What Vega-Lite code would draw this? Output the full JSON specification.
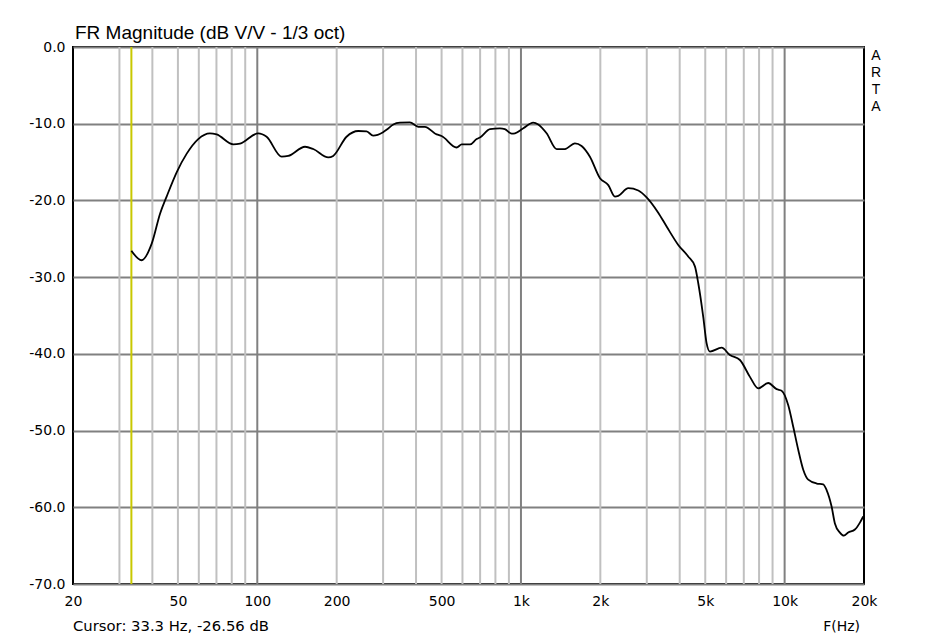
{
  "$schema": "https://vega.github.io/schema/vega-lite/v6.json",
  "width": 791,
  "height": 537,
  "autosize": {"type": "none"},
  "padding": {"left": 73, "top": 47, "right": 73, "bottom": 57},
  "background": "white",
  "title": {
    "text": "FR Magnitude (dB V/V - 1/3 oct)",
    "anchor": "start",
    "frame": "group",
    "font": "Liberation Sans",
    "fontSize": 19,
    "fontWeight": "normal",
    "color": "black",
    "baseline": "alphabetic",
    "offset": -18,
    "dx": 2
  },
  "datasets": {
    "curve": [
      {"f": 33.3, "db": -26.56}, {"f": 36.4, "db": -27.8}, {"f": 39.8, "db": -25.6}, {"f": 42.8, "db": -21.7},
      {"f": 45.3, "db": -19.5}, {"f": 49.5, "db": -16.3}, {"f": 54.0, "db": -13.9}, {"f": 59.7, "db": -12.0},
      {"f": 66.1, "db": -11.25}, {"f": 70.1, "db": -11.4}, {"f": 81.1, "db": -12.7}, {"f": 86, "db": -12.6},
      {"f": 100.8, "db": -11.25}, {"f": 108.5, "db": -11.7}, {"f": 123.7, "db": -14.3}, {"f": 131, "db": -14.2},
      {"f": 151.7, "db": -13.0}, {"f": 163, "db": -13.3}, {"f": 185.9, "db": -14.4}, {"f": 194, "db": -14.2},
      {"f": 218, "db": -11.7}, {"f": 241.6, "db": -10.95}, {"f": 259.8, "db": -11.0}, {"f": 275, "db": -11.55},
      {"f": 300, "db": -11.1}, {"f": 309, "db": -10.8}, {"f": 328, "db": -10.1}, {"f": 347.6, "db": -9.87},
      {"f": 379, "db": -9.82}, {"f": 408, "db": -10.4}, {"f": 432, "db": -10.4}, {"f": 479, "db": -11.4},
      {"f": 500, "db": -11.6}, {"f": 570, "db": -13.1}, {"f": 596, "db": -12.7}, {"f": 641, "db": -12.7},
      {"f": 679, "db": -12.0}, {"f": 699, "db": -11.8}, {"f": 763, "db": -10.7}, {"f": 832, "db": -10.6},
      {"f": 869, "db": -10.7}, {"f": 922, "db": -11.3}, {"f": 949, "db": -11.25}, {"f": 1021, "db": -10.6},
      {"f": 1113, "db": -9.87}, {"f": 1163, "db": -10.1}, {"f": 1251, "db": -11.25}, {"f": 1366, "db": -13.3},
      {"f": 1468, "db": -13.3}, {"f": 1602, "db": -12.55}, {"f": 1698, "db": -12.9}, {"f": 1826, "db": -14.3},
      {"f": 1994, "db": -17.1}, {"f": 2144, "db": -18.0}, {"f": 2272, "db": -19.5}, {"f": 2340, "db": -19.4},
      {"f": 2553, "db": -18.4}, {"f": 2786, "db": -18.7}, {"f": 2996, "db": -19.6}, {"f": 3316, "db": -21.6},
      {"f": 3568, "db": -23.4}, {"f": 3950, "db": -25.8}, {"f": 4308, "db": -27.3}, {"f": 4568, "db": -28.6},
      {"f": 4704, "db": -30.8}, {"f": 4914, "db": -35.2}, {"f": 5058, "db": -38.6}, {"f": 5208, "db": -39.7},
      {"f": 5768, "db": -39.2}, {"f": 6200, "db": -40.15}, {"f": 6768, "db": -40.8}, {"f": 7386, "db": -43.0},
      {"f": 7940, "db": -44.5}, {"f": 8663, "db": -43.8}, {"f": 9325, "db": -44.6}, {"f": 9740, "db": -44.8},
      {"f": 10322, "db": -46.7}, {"f": 10780, "db": -49.5}, {"f": 11262, "db": -52.5}, {"f": 11766, "db": -55.1},
      {"f": 12290, "db": -56.4}, {"f": 13220, "db": -56.9}, {"f": 14000, "db": -57.0}, {"f": 14428, "db": -57.75},
      {"f": 15070, "db": -59.9}, {"f": 15512, "db": -62.1}, {"f": 16204, "db": -63.3}, {"f": 16778, "db": -63.7},
      {"f": 17420, "db": -63.3}, {"f": 18472, "db": -62.9}, {"f": 19300, "db": -62.0}, {"f": 19860, "db": -61.2}
    ],
    "grid": [
      {"f": 30, "kind": "minor"}, {"f": 40, "kind": "minor"}, {"f": 50, "kind": "minor"}, {"f": 60, "kind": "minor"},
      {"f": 70, "kind": "minor"}, {"f": 80, "kind": "minor"}, {"f": 90, "kind": "minor"}, {"f": 100, "kind": "major"},
      {"f": 200, "kind": "minor"}, {"f": 300, "kind": "minor"}, {"f": 400, "kind": "minor"}, {"f": 500, "kind": "minor"},
      {"f": 600, "kind": "minor"}, {"f": 700, "kind": "minor"}, {"f": 800, "kind": "minor"}, {"f": 900, "kind": "minor"},
      {"f": 1000, "kind": "major"}, {"f": 2000, "kind": "minor"}, {"f": 3000, "kind": "minor"}, {"f": 4000, "kind": "minor"},
      {"f": 5000, "kind": "minor"}, {"f": 6000, "kind": "minor"}, {"f": 7000, "kind": "minor"}, {"f": 8000, "kind": "minor"},
      {"f": 9000, "kind": "minor"}, {"f": 10000, "kind": "major"}
    ],
    "cursor": [{"f": 33.3}],
    "noteLeft": [{"f": 20, "db": -75.6, "t": "Cursor: 33.3 Hz, -26.56 dB"}],
    "noteRight": [{"f": 20000, "db": -75.6, "t": "F(Hz)"}],
    "arta": [{"f": 20000, "db": 0}]
  },
  "layer": [
    {
      "data": {"name": "grid"},
      "mark": {"type": "rule", "strokeWidth": 2},
      "encoding": {
        "x": {
          "field": "f", "type": "quantitative",
          "scale": {"type": "log", "domain": [20, 20000]},
          "axis": {
            "values": [20, 50, 100, 200, 500, 1000, 2000, 5000, 10000, 20000],
            "labelExpr": "datum.value >= 1000 ? (datum.value / 1000) + 'k' : '' + datum.value",
            "grid": false, "ticks": false, "domain": false, "title": null,
            "labelFont": "DejaVu Sans", "labelFontSize": 14, "labelColor": "black",
            "labelPadding": 10, "labelFlush": false, "labelOverlap": false
          }
        },
        "color": {
          "field": "kind", "type": "nominal",
          "scale": {"domain": ["minor", "major"], "range": ["#c0c0c0", "#808080"]},
          "legend": null
        }
      }
    },
    {
      "data": {"name": "cursor"},
      "mark": {"type": "rule", "strokeWidth": 2, "color": "#c8c800"},
      "encoding": {
        "x": {"field": "f", "type": "quantitative", "scale": {"type": "log", "domain": [20, 20000]}}
      }
    },
    {
      "data": {"name": "curve"},
      "mark": {"type": "line", "color": "black", "strokeWidth": 1.8, "interpolate": "monotone"},
      "encoding": {
        "x": {"field": "f", "type": "quantitative", "scale": {"type": "log", "domain": [20, 20000]}},
        "y": {
          "field": "db", "type": "quantitative",
          "scale": {"domain": [-70, 0], "nice": false},
          "axis": {
            "values": [-70, -60, -50, -40, -30, -20, -10, 0],
            "labelExpr": "datum.value == 0 ? '0.0' : '-' + abs(datum.value) + '.0'",
            "grid": true, "gridColor": "#808080", "gridWidth": 2, "gridOpacity": 1,
            "ticks": false, "domain": false, "title": null,
            "labelFont": "DejaVu Sans", "labelFontSize": 14, "labelColor": "black",
            "labelPadding": 8
          }
        }
      }
    },
    {
      "data": {"name": "noteLeft"},
      "mark": {"type": "text", "font": "DejaVu Sans", "fontSize": 14.8, "color": "black", "baseline": "middle", "align": "left"},
      "encoding": {
        "x": {"field": "f", "type": "quantitative", "scale": {"type": "log", "domain": [20, 20000]}},
        "y": {"field": "db", "type": "quantitative", "scale": {"domain": [-70, 0], "nice": false}},
        "text": {"field": "t"}
      }
    },
    {
      "data": {"name": "noteRight"},
      "mark": {"type": "text", "font": "DejaVu Sans", "fontSize": 14, "color": "black", "baseline": "middle", "align": "right", "dx": -4},
      "encoding": {
        "x": {"field": "f", "type": "quantitative", "scale": {"type": "log", "domain": [20, 20000]}},
        "y": {"field": "db", "type": "quantitative", "scale": {"domain": [-70, 0], "nice": false}},
        "text": {"field": "t"}
      }
    },
    {
      "data": {"name": "arta"},
      "mark": {"type": "text", "text": ["A", "R", "T", "A"], "font": "Liberation Sans", "fontSize": 14, "color": "black", "baseline": "top", "align": "center", "lineHeight": 17, "dx": 12, "dy": 2},
      "encoding": {
        "x": {"field": "f", "type": "quantitative", "scale": {"type": "log", "domain": [20, 20000]}},
        "y": {"field": "db", "type": "quantitative", "scale": {"domain": [-70, 0], "nice": false}}
      }
    }
  ],
  "config": {
    "view": {"stroke": "black", "strokeWidth": 2}
  }
}
